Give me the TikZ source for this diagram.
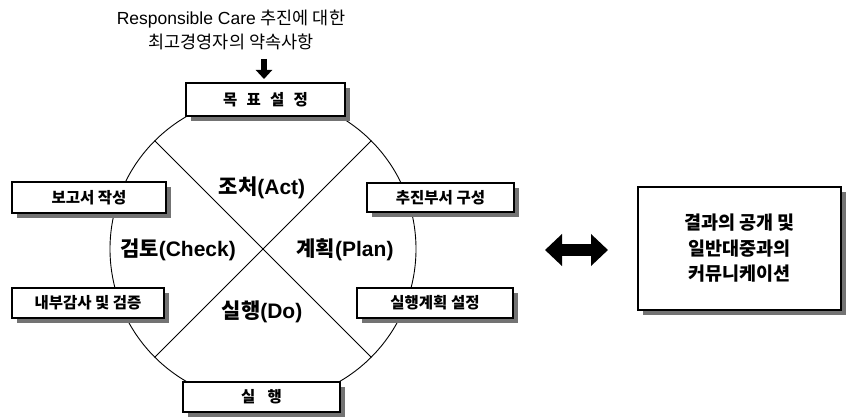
\documentclass[tikz,border=0pt]{standalone}
\usepackage{fontspec}
\setmainfont{Liberation Sans}
\newfontfamily\kr{Noto Sans CJK KR}
\newcommand\krb{\kr\bfseries}
\usetikzlibrary{shadows,arrows.meta,calc}
\begin{document}
\begin{tikzpicture}[x=1pt,y=-1pt,
  box/.style={draw=black, line width=1.3pt, fill=white, inner sep=0pt,
    font=\krb\fontsize{15.5}{18}\selectfont,
    general shadow={shadow xshift=5pt, shadow yshift=-5pt, fill=black!55}},
  region/.style={font=\bfseries\fontsize{21}{23}\selectfont},
  fat/.style={line width=6pt, -{Triangle[width=16pt,length=9pt]}}]
\useasboundingbox (0,0) rectangle (846,420);
% circle and diagonals
\coordinate (c) at (263,249);
\draw[line width=0.9pt] (c) circle[radius=153];
\draw[line width=1pt] ($(c)+(-108,-108)$) -- ($(c)+(108,108)$);
\draw[line width=1pt] ($(c)+(108,-108)$) -- ($(c)+(-108,108)$);
% region labels
\node[region] (act) at (262,188) {{\krb 조처}(Act)};
\node[region] (check) at (178,250) {{\krb 검토}(Check)};
\node[region] (plan) at (345,250) {{\krb 계획}(Plan)};
\node[region] (do) at (262,312) {{\krb 실행}(Do)};
% boxes
\node[box, minimum width=159pt, minimum height=33pt] (goal) at (265.5,99.5) {목\hspace{0.6em}표\hspace{0.6em}설\hspace{0.6em}정};
\node[box, minimum width=154pt, minimum height=31pt] (report) at (89,197.5) {보고서 작성};
\node[box, minimum width=152pt, minimum height=30pt] (audit) at (88,303) {내부감사 및 검증};
\node[box, minimum width=147pt, minimum height=29pt] (dept) at (440.5,197.5) {추진부서 구성};
\node[box, minimum width=156pt, minimum height=30pt] (planset) at (435,303) {실행계획 설정};
\node[box, minimum width=157pt, minimum height=30pt] (exec) at (261.5,397) {실\hspace{0.8em}행};
\node[box, minimum width=203pt, minimum height=123pt, align=center,
  font=\krb\fontsize{18.5}{25.5}\selectfont] (comm) at (739.5,248.5)
  {결과의 공개 및\\일반대중과의\\커뮤니케이션};
% top text
\node[font=\fontsize{17.5}{24}\selectfont, align=center] (top) at (231,30)
  {Responsible Care {\kr 추진에 대한}\\{\kr 최고경영자의 약속사항}};
\coordinate (a1) at (264,59);
\coordinate (a2) at (264,79);
\draw[fat] (a1) -- (a2);
% double arrow
\coordinate (dl) at (545,250);
\coordinate (dr) at (608,250);
\draw[line width=12pt, {Triangle[width=31pt,length=17pt]}-{Triangle[width=31pt,length=17pt]}] (dl) -- (dr);
\end{tikzpicture}
\end{document}
